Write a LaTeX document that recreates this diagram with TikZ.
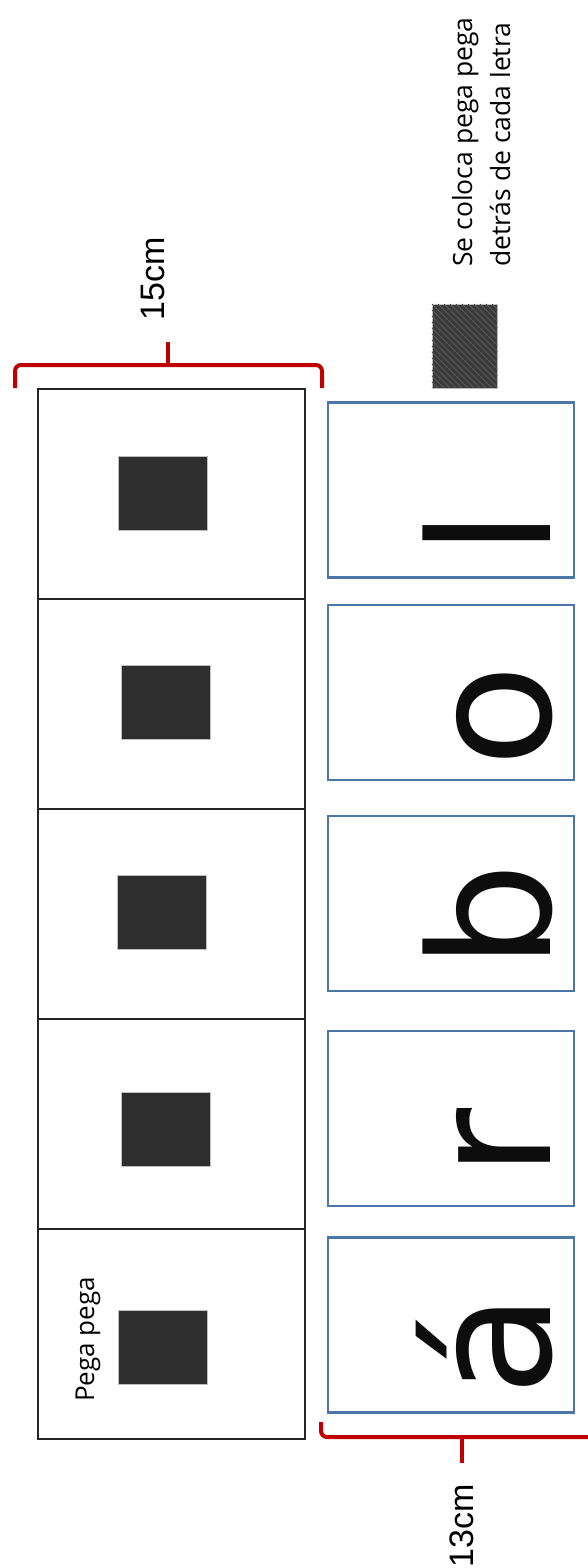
\documentclass[tikz,border=0pt]{standalone}
\usepackage{fontspec}
\setmainfont{Liberation Sans}
\newfontfamily\letterfont{DejaVu Sans}
\newfontfamily\notefont{Open Sans}
\definecolor{bracered}{HTML}{C00000}
\definecolor{boxblue}{HTML}{4A76A8}
\definecolor{padgray}{HTML}{2E2E2E}
\definecolor{swatchgray}{HTML}{3A3A3A}
\begin{document}
\begin{tikzpicture}[x=1pt,y=-1pt,
  cellbox/.style={draw=black!85, line width=1.3pt, minimum width=267pt, minimum height=210pt, inner sep=0pt},
  letterbox/.style={draw=boxblue, line width=2.6pt, minimum width=246pt, minimum height=175pt, inner sep=0pt},
  pad/.style={fill=padgray, draw=gray!50, line width=0.5pt, minimum width=89pt, minimum height=74pt, inner sep=0pt},
  glyph/.style={font=\letterfont\fontsize{168}{168}\selectfont, rotate=90, anchor=base, inner sep=5pt, text=black!95},
  brace/.style={draw=bracered, line width=4pt, rounded corners=6pt},
  dimlabel/.style={font=\fontsize{34}{34}\selectfont, rotate=90, inner sep=0pt},
  note/.style={font=\notefont\fontsize{26.5}{38}\selectfont, rotate=90, align=left, inner sep=0pt, anchor=base west}]
\useasboundingbox (0,0) rectangle (587,1568);
\fill[white] (0,0) rectangle (587,1568);

% left strip of cells
\node[cellbox] (c1) at (171.5,494) {};
\node[cellbox] (c2) at (171.5,704.5) {};
\node[cellbox] (c3) at (171.5,914) {};
\node[cellbox] (c4) at (171.5,1124) {};
\node[cellbox] (c5) at (171.5,1334) {};

% pega pega pads
\node[pad] (p1) at (163,493) {};
\node[pad] (p2) at (165.5,702.5) {};
\node[pad] (p3) at (162,912) {};
\node[pad] (p4) at (165.5,1129) {};
\node[pad] (p5) at (162.5,1347.5) {};
\node[font=\notefont\fontsize{26}{26}\selectfont, rotate=90, inner sep=0pt, anchor=base west] (pegalbl) at (94,1402) {Pega pega};

% letter boxes
\node[letterbox] (b1) at (451,490) {};
\node[letterbox] (b2) at (451,692.5) {};
\node[letterbox] (b3) at (451,903.5) {};
\node[letterbox] (b4) at (451,1118.5) {};
\node[letterbox] (b5) at (451,1325) {};

\node[glyph] (g1) at (550,533) {l};
\node[glyph] (g2) at (550,716) {o};
\node[glyph] (g3) at (550,916) {b};
\node[glyph] (g4) at (550,1143) {r};
\node[glyph] (g5) at (550,1345) {á};

% swatch and note
\node[fill=swatchgray, draw=gray!50, line width=0.5pt, minimum width=65pt, minimum height=84pt, inner sep=0pt] (swatch) at (464.5,346) {};
\begin{scope}
  \clip (swatch.south west) rectangle (swatch.north east);
  \foreach \k in {-90,-84,...,70} {
    \draw[gray!45!swatchgray, line width=0.8pt] (432+\k,304) -- (432+\k+84,388);
  }
\end{scope}
\node[note] (notetxt) at (510,267) {Se coloca pega pega\\detrás de cada letra};

% braces
\draw[brace] (15,388) -- (15,365) -- (322,365) -- (322,388);
\draw[brace, rounded corners=0pt] (168,365) -- (168,342);
\draw[brace] (321,1422) -- (321,1437) -- (600,1437);
\draw[brace, rounded corners=0pt] (462,1437) -- (462,1463);

\node[dimlabel] (top) at (153,279) {15cm};
\node[dimlabel] (bot) at (462,1526) {13cm};
\end{tikzpicture}
\end{document}
